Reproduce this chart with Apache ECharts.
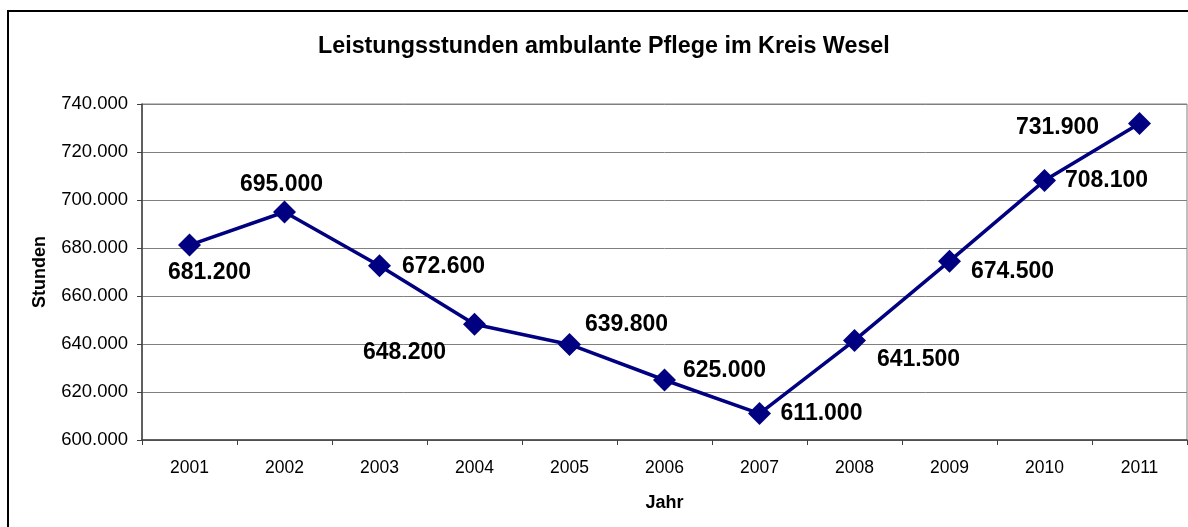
<!DOCTYPE html>
<html>
<head>
<meta charset="utf-8"/>
<title>Leistungsstunden ambulante Pflege</title>
<script src="https://cdn.jsdelivr.net/npm/echarts@6/dist/echarts.min.js"></script>
<style>
  html, body { margin: 0; padding: 0; background: #fff; }
  #main { width: 1188px; height: 527px; }
</style>
</head>
<body>
<div id="main"></div>
<script type="text/javascript">
// Daten
var jahre = ['2001', '2002', '2003', '2004', '2005', '2006', '2007', '2008', '2009', '2010', '2011'];
var stunden = [681200, 695000, 672600, 648200, 639800, 625000, 611000, 641500, 674500, 708100, 731900];
var yMin = 600000, yMax = 740000, yStep = 20000;

// Lage der Beschriftungen (Versatz der Labelmitte zum Punkt, in px)
var labelOffsets = [[20, 28], [-3, -27], [64, 1], [-70, 28], [57, -20], [60, -9],
                    [62, 0], [64, 19], [63, 10], [62, 0], [-82, 4]];

var FONT = '"Liberation Sans", Arial, sans-serif';

function fmt(v) {
    var t = Math.floor(v / 1000);
    var r = String(Math.round(v % 1000));
    while (r.length < 3) r = '0' + r;
    return t + '.' + r;
}

var chartDom = document.getElementById('main');
var myChart = echarts.init(chartDom, null, { renderer: 'canvas' });

var option = {
    animation: false,
    backgroundColor: '#fff',
    textStyle: { fontFamily: FONT },
    title: {
        text: 'Leistungsstunden ambulante Pflege im Kreis Wesel',
        left: 313,
        top: 30,
        textStyle: { fontFamily: FONT, fontSize: 23.3, fontWeight: 'bold', color: '#000' }
    },
    graphic: [{
        type: 'rect',
        shape: { x: 8, y: 11, width: 1300, height: 700 },
        style: { fill: 'none', stroke: '#000', lineWidth: 2 },
        silent: true
    }],
    grid: {
        left: 142, right: 1, top: 104, bottom: 87,
        show: true, borderColor: '#808080', borderWidth: 1
    },
    xAxis: {
        type: 'category',
        data: jahre,
        boundaryGap: true,
        name: 'Jahr',
        nameLocation: 'middle',
        nameGap: 54,
        nameTextStyle: { fontFamily: FONT, fontSize: 18, fontWeight: 'bold', color: '#000' },
        axisLine: { lineStyle: { color: '#404040', width: 1.5 } },
        axisTick: { show: true, length: 5, alignWithLabel: false, lineStyle: { color: '#404040' } },
        axisLabel: { fontFamily: FONT, fontSize: 17.5, color: '#000', margin: 19 },
        splitLine: { show: false }
    },
    yAxis: {
        type: 'value',
        min: yMin, max: yMax, interval: yStep,
        name: 'Stunden',
        nameLocation: 'middle',
        nameRotate: 90,
        nameGap: 93,
        nameTextStyle: { fontFamily: FONT, fontSize: 18, fontWeight: 'bold', color: '#000' },
        axisLine: { show: true, lineStyle: { color: '#404040', width: 1.5 } },
        axisTick: { show: true, length: 5, lineStyle: { color: '#404040' } },
        axisLabel: { fontFamily: FONT, fontSize: 18.5, color: '#000', margin: 14, formatter: fmt },
        splitLine: { show: true, lineStyle: { color: '#808080', width: 1 } }
    },
    series: [{
        type: 'line',
        data: stunden.map(function (v, i) {
            return {
                value: v,
                label: { offset: labelOffsets[i] }
            };
        }),
        symbol: 'diamond',
        symbolSize: 23,
        lineStyle: { color: '#000080', width: 3.5 },
        itemStyle: { color: '#000080' },
        label: {
            show: true,
            position: 'inside',
            align: 'center',
            verticalAlign: 'middle',
            fontFamily: FONT,
            fontSize: 23,
            fontWeight: 'bold',
            color: '#000',
            formatter: function (p) { return fmt(p.value); }
        },
        z: 3
    }]
};

myChart.setOption(option);
</script>
</body>
</html>
